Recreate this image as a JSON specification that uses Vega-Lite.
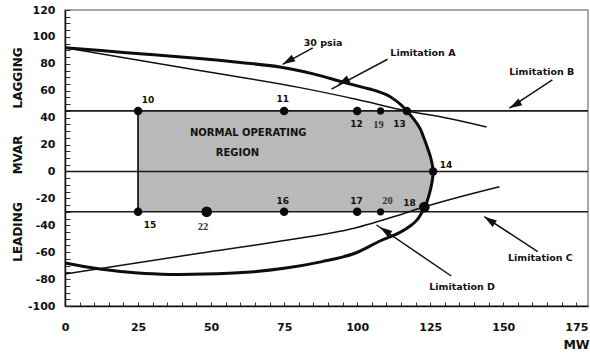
{
  "$schema": "https://vega.github.io/schema/vega-lite/v6.json",
  "width": 523,
  "height": 296,
  "autosize": {"type": "none"},
  "padding": {"left": 65, "top": 10, "right": 2, "bottom": 48},
  "background": "white",
  "config": {
    "view": {"stroke": "#8c8c8c", "strokeWidth": 1.5},
    "axis": {
      "grid": false,
      "domainColor": "#111111",
      "domainWidth": 1.5,
      "tickColor": "#333333",
      "tickWidth": 1,
      "labelFont": "DejaVu Sans",
      "labelFontWeight": "bold",
      "labelFontSize": 11,
      "labelColor": "#111111"
    }
  },
  "resolve": {"axis": {"x": "independent", "y": "independent"}},
  "datasets": {
    "psia": [
      {"i": 1, "mw": 0, "mvar": 92},
      {"i": 2, "mw": 20, "mvar": 88.5},
      {"i": 3, "mw": 46, "mvar": 84},
      {"i": 4, "mw": 60, "mvar": 81},
      {"i": 5, "mw": 74, "mvar": 77.5},
      {"i": 6, "mw": 85, "mvar": 72.5},
      {"i": 7, "mw": 95, "mvar": 66.5},
      {"i": 8, "mw": 102, "mvar": 62.5},
      {"i": 9, "mw": 107, "mvar": 59.5},
      {"i": 10, "mw": 110.5, "mvar": 56.5},
      {"i": 11, "mw": 113, "mvar": 53},
      {"i": 12, "mw": 115, "mvar": 49.5},
      {"i": 13, "mw": 117, "mvar": 45},
      {"i": 14, "mw": 119.5, "mvar": 38.5},
      {"i": 15, "mw": 121.5, "mvar": 32},
      {"i": 16, "mw": 122.8, "mvar": 25},
      {"i": 17, "mw": 124, "mvar": 18},
      {"i": 18, "mw": 125.2, "mvar": 10},
      {"i": 19, "mw": 126, "mvar": 0},
      {"i": 20, "mw": 125.6, "mvar": -8},
      {"i": 21, "mw": 124.8, "mvar": -16},
      {"i": 22, "mw": 123.8, "mvar": -23},
      {"i": 23, "mw": 123, "mvar": -27},
      {"i": 24, "mw": 122.3, "mvar": -30},
      {"i": 25, "mw": 120.5, "mvar": -36},
      {"i": 26, "mw": 118.5, "mvar": -40},
      {"i": 27, "mw": 114.5, "mvar": -45.5},
      {"i": 28, "mw": 108, "mvar": -51.5},
      {"i": 29, "mw": 99, "mvar": -61},
      {"i": 30, "mw": 88, "mvar": -67},
      {"i": 31, "mw": 75, "mvar": -72},
      {"i": 32, "mw": 62, "mvar": -75},
      {"i": 33, "mw": 48, "mvar": -76.3},
      {"i": 34, "mw": 36, "mvar": -76.5},
      {"i": 35, "mw": 25, "mvar": -75.5},
      {"i": 36, "mw": 12, "mvar": -72.5},
      {"i": 37, "mw": 0, "mvar": -68}
    ],
    "limA": [
      {"mw": 0, "mvar": 92},
      {"mw": 46, "mvar": 75},
      {"mw": 80, "mvar": 62.5},
      {"mw": 100, "mvar": 53.5},
      {"mw": 117, "mvar": 45},
      {"mw": 131, "mvar": 39.5},
      {"mw": 144.3, "mvar": 33}
    ],
    "limD": [
      {"mw": 0, "mvar": -76.2},
      {"mw": 46, "mvar": -60.8},
      {"mw": 74.5, "mvar": -51.5},
      {"mw": 99, "mvar": -42.2},
      {"mw": 114.5, "mvar": -32.3},
      {"mw": 123, "mvar": -26.3},
      {"mw": 148.7, "mvar": -11.3}
    ],
    "levels": [
      {"mvar": 45},
      {"mvar": 0},
      {"mvar": -30}
    ],
    "edge": [
      {"mw": 25, "mvar": -30, "mvar2": 45}
    ],
    "arrows": [
      {"name": "30 psia", "mw": 84.8, "mvar": 91.8, "mw2": 74.5, "mvar2": 79.6},
      {"name": "Limitation A", "mw": 110.4, "mvar": 83.4, "mw2": 91.2, "mvar2": 61.2},
      {"name": "Limitation B", "mw": 166.8, "mvar": 68, "mw2": 152.1, "mvar2": 47},
      {"name": "Limitation C", "mw": 161.8, "mvar": -59.6, "mw2": 143.5, "mvar2": -33.6},
      {"name": "Limitation D", "mw": 132.2, "mvar": -77.7, "mw2": 106.6, "mvar2": -39.8}
    ],
    "heads": [
      {"name": "30 psia", "dir": "down-left", "mw": 74.5, "mvar": 79.6},
      {"name": "Limitation A", "dir": "down-left", "mw": 93.3, "mvar": 64.2},
      {"name": "Limitation B", "dir": "down-left", "mw": 152.1, "mvar": 47},
      {"name": "Limitation C", "dir": "up-left", "mw": 143.5, "mvar": -33.6},
      {"name": "Limitation D", "dir": "up-left", "mw": 107.7, "mvar": -41.3}
    ],
    "points": [
      {"id": "10", "mw": 25, "mvar": 45, "lmw": 28.4, "lmvar": 53.2},
      {"id": "11", "mw": 75, "mvar": 45, "lmw": 74.5, "lmvar": 53.9},
      {"id": "12", "mw": 100, "mvar": 45, "lmw": 99.8, "lmvar": 35.1},
      {"id": "19", "mw": 108, "mvar": 45, "lmw": 107.3, "lmvar": 34.6},
      {"id": "13", "mw": 117, "mvar": 45, "lmw": 114.5, "lmvar": 35.1},
      {"id": "14", "mw": 126, "mvar": 0, "lmw": 130.4, "lmvar": 4.8},
      {"id": "15", "mw": 25, "mvar": -30, "lmw": 29.1, "lmvar": -39.8},
      {"id": "22", "mw": 48.5, "mvar": -30, "lmw": 47.2, "lmvar": -41},
      {"id": "16", "mw": 75, "mvar": -30, "lmw": 74.5, "lmvar": -21.9},
      {"id": "17", "mw": 100, "mvar": -30, "lmw": 99.8, "lmvar": -21.9},
      {"id": "20", "mw": 108, "mvar": -30, "lmw": 110.4, "lmvar": -21.9},
      {"id": "18", "mw": 123, "mvar": -26.5, "lmw": 117.9, "lmvar": -23.6}
    ],
    "notes": [
      {"group": "callout", "text": "30 psia", "mw": 88.3, "mvar": 95.8},
      {"group": "callout", "text": "Limitation A", "mw": 122.5, "mvar": 88.3},
      {"group": "callout", "text": "Limitation B", "mw": 163.2, "mvar": 74.2},
      {"group": "callout", "text": "Limitation C", "mw": 162.7, "mvar": -64.5},
      {"group": "callout", "text": "Limitation D", "mw": 135.9, "mvar": -85.6},
      {"group": "region", "text": "NORMAL OPERATING", "mw": 62.7, "mvar": 28.4},
      {"group": "region", "text": "REGION", "mw": 59, "mvar": 13.5},
      {"group": "side", "text": "LAGGING", "mw": -16.1, "mvar": 69.5},
      {"group": "side", "text": "MVAR", "mw": -16.1, "mvar": 12.3},
      {"group": "side", "text": "LEADING", "mw": -16.1, "mvar": -45}
    ]
  },
  "layer": [
    {
      "data": {"name": "psia"},
      "transform": [{"filter": "datum.mvar <= 45 && datum.mvar >= -30"}],
      "mark": {"type": "area", "orient": "horizontal", "interpolate": "catmull-rom", "color": "#b9b9b9"},
      "encoding": {
        "x": {
          "field": "mw",
          "type": "quantitative",
          "scale": {"domain": [0, 179], "nice": false, "zero": false},
          "axis": {
            "orient": "bottom",
            "values": [0, 5, 10, 15, 20, 25, 30, 35, 40, 45, 50, 55, 60, 65, 70, 75, 80, 85, 90, 95, 100, 105, 110, 115, 120, 125, 130, 135, 140, 145, 150, 155, 160, 165, 170, 175],
            "labelExpr": "datum.value % 25 === 0 ? '' + datum.value : ''",
            "labelOverlap": false,
            "labelFlush": false,
            "labelBound": false,
            "tickSize": -4,
            "labelBaseline": "middle",
            "labelPadding": 25,
            "title": "MW",
            "titleFont": "DejaVu Sans",
            "titleFontWeight": "bold",
            "titleFontSize": 12.5,
            "titleColor": "#111111",
            "titleAlign": "center",
            "titleBaseline": "middle",
            "titleX": 511,
            "titleY": 38
          }
        },
        "x2": {"datum": 25},
        "y": {
          "field": "mvar",
          "type": "quantitative",
          "scale": {"domain": [-100, 120], "nice": false, "zero": false},
          "axis": {
            "orient": "left",
            "values": [-100, -95, -90, -85, -80, -75, -70, -65, -60, -55, -50, -45, -40, -35, -30, -25, -20, -15, -10, -5, 0, 5, 10, 15, 20, 25, 30, 35, 40, 45, 50, 55, 60, 65, 70, 75, 80, 85, 90, 95, 100, 105, 110, 115, 120],
            "labelExpr": "datum.value % 20 === 0 ? '' + datum.value : ''",
            "labelOverlap": false,
            "labelFlush": false,
            "labelBound": false,
            "tickSize": -5,
            "labelPadding": 15,
            "title": null
          }
        }
      }
    },
    {
      "data": {"name": "levels"},
      "mark": {"type": "rule", "color": "#1a1a1a", "strokeWidth": 1.6},
      "encoding": {
        "y": {"field": "mvar", "type": "quantitative", "axis": null}
      }
    },
    {
      "data": {"name": "edge"},
      "mark": {"type": "rule", "color": "#1a1a1a", "strokeWidth": 1.8},
      "encoding": {
        "x": {"field": "mw", "type": "quantitative", "axis": null},
        "y": {"field": "mvar", "type": "quantitative", "axis": null},
        "y2": {"field": "mvar2"}
      }
    },
    {
      "data": {"name": "limA"},
      "mark": {"type": "line", "interpolate": "monotone", "color": "#111111", "strokeWidth": 1.5},
      "encoding": {
        "x": {"field": "mw", "type": "quantitative", "axis": null},
        "y": {"field": "mvar", "type": "quantitative", "axis": null}
      }
    },
    {
      "data": {"name": "limD"},
      "mark": {"type": "line", "interpolate": "monotone", "color": "#111111", "strokeWidth": 1.5},
      "encoding": {
        "x": {"field": "mw", "type": "quantitative", "axis": null},
        "y": {"field": "mvar", "type": "quantitative", "axis": null}
      }
    },
    {
      "data": {"name": "psia"},
      "mark": {"type": "line", "interpolate": "catmull-rom", "color": "#0d0d0d", "strokeWidth": 3},
      "encoding": {
        "x": {"field": "mw", "type": "quantitative", "axis": null},
        "y": {"field": "mvar", "type": "quantitative", "axis": null},
        "order": {"field": "i", "type": "quantitative"}
      }
    },
    {
      "data": {"name": "arrows"},
      "mark": {"type": "rule", "color": "#111111", "strokeWidth": 1.5},
      "encoding": {
        "x": {"field": "mw", "type": "quantitative", "axis": null},
        "y": {"field": "mvar", "type": "quantitative", "axis": null},
        "x2": {"field": "mw2"},
        "y2": {"field": "mvar2"}
      }
    },
    {
      "data": {"name": "heads"},
      "transform": [{"filter": "datum.dir === 'down-left'"}],
      "mark": {"type": "point", "shape": "M0,0L0.6,2L-0.6,2Z", "filled": true, "color": "#111111", "opacity": 1, "size": 160, "angle": 240},
      "encoding": {
        "x": {"field": "mw", "type": "quantitative", "axis": null},
        "y": {"field": "mvar", "type": "quantitative", "axis": null}
      }
    },
    {
      "data": {"name": "heads"},
      "transform": [{"filter": "datum.dir === 'up-left'"}],
      "mark": {"type": "point", "shape": "M0,0L0.6,2L-0.6,2Z", "filled": true, "color": "#111111", "opacity": 1, "size": 160, "angle": 304},
      "encoding": {
        "x": {"field": "mw", "type": "quantitative", "axis": null},
        "y": {"field": "mvar", "type": "quantitative", "axis": null}
      }
    },
    {
      "data": {"name": "points"},
      "mark": {"type": "circle", "color": "#0a0a0a", "opacity": 1},
      "encoding": {
        "x": {"field": "mw", "type": "quantitative", "axis": null},
        "y": {"field": "mvar", "type": "quantitative", "axis": null},
        "size": {
          "condition": [
            {"test": "datum.id === '18' || datum.id === '22'", "value": 115},
            {"test": "datum.id === '19' || datum.id === '20'", "value": 52}
          ],
          "value": 72
        }
      }
    },
    {
      "data": {"name": "points"},
      "transform": [{"filter": "datum.id !== '19' && datum.id !== '20' && datum.id !== '22'"}],
      "mark": {"type": "text", "font": "DejaVu Sans", "fontWeight": "bold", "fontSize": 9, "color": "#111111", "align": "center", "baseline": "middle"},
      "encoding": {
        "x": {"field": "lmw", "type": "quantitative", "axis": null},
        "y": {"field": "lmvar", "type": "quantitative", "axis": null},
        "text": {"field": "id"}
      }
    },
    {
      "data": {"name": "points"},
      "transform": [{"filter": "datum.id === '19' || datum.id === '20' || datum.id === '22'"}],
      "mark": {"type": "text", "font": "Liberation Serif", "fontWeight": "bold", "fontSize": 10.5, "color": "#333333", "align": "center", "baseline": "middle"},
      "encoding": {
        "x": {"field": "lmw", "type": "quantitative", "axis": null},
        "y": {"field": "lmvar", "type": "quantitative", "axis": null},
        "text": {"field": "id"}
      }
    },
    {
      "data": {"name": "notes"},
      "transform": [{"filter": "datum.group === 'callout'"}],
      "mark": {"type": "text", "font": "DejaVu Sans", "fontWeight": "bold", "fontSize": 9.5, "color": "#111111", "align": "center", "baseline": "middle"},
      "encoding": {
        "x": {"field": "mw", "type": "quantitative", "axis": null},
        "y": {"field": "mvar", "type": "quantitative", "axis": null},
        "text": {"field": "text"}
      }
    },
    {
      "data": {"name": "notes"},
      "transform": [{"filter": "datum.group === 'region'"}],
      "mark": {"type": "text", "font": "DejaVu Sans", "fontWeight": "bold", "fontSize": 10, "color": "#111111", "align": "center", "baseline": "middle"},
      "encoding": {
        "x": {"field": "mw", "type": "quantitative", "axis": null},
        "y": {"field": "mvar", "type": "quantitative", "axis": null},
        "text": {"field": "text"}
      }
    },
    {
      "data": {"name": "notes"},
      "transform": [{"filter": "datum.group === 'side'"}],
      "mark": {"type": "text", "font": "DejaVu Sans", "fontWeight": "bold", "fontSize": 12, "color": "#111111", "align": "center", "baseline": "middle", "angle": 270},
      "encoding": {
        "x": {"field": "mw", "type": "quantitative", "axis": null},
        "y": {"field": "mvar", "type": "quantitative", "axis": null},
        "text": {"field": "text"}
      }
    }
  ]
}
